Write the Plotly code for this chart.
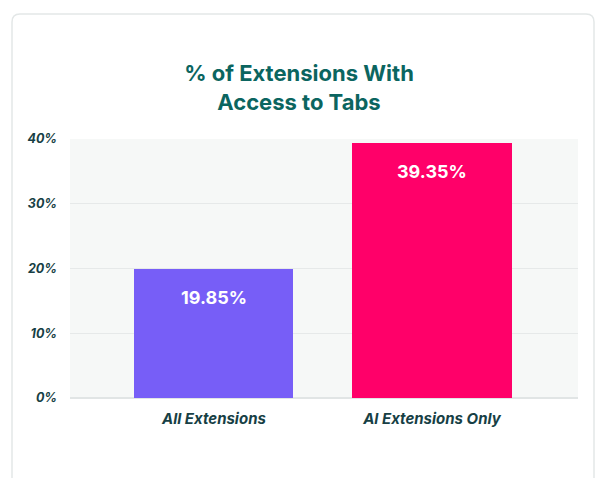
import plotly.graph_objects as go

# Data
categories = ["All Extensions", "AI Extensions Only"]
category_labels = ["All Extensions", "Al Extensions Only"]
share_pct = [19.85, 39.35]
bar_colors = ["#775ef7", "#ff0069"]
y_ticks = [0, 10, 20, 30, 40]
y_tick_labels = ["0%", "10%", "20%", "30%", "40%"]

W, H = 595, 478
M_L, M_R, M_T, M_B = 70, 17, 139, 80
PW, PH = W - M_L - M_R, H - M_T - M_B


def px_x(x):
    return (x - M_L) / PW


def px_y(y):
    return (H - M_B - y) / PH


def card_path(x0, y0, x1, y1, r):
    pts = [
        ("M", [(x0 + r, y0)]),
        ("L", [(x1 - r, y0)]),
        ("Q", [(x1, y0), (x1, y0 + r)]),
        ("L", [(x1, y1 - r)]),
        ("Q", [(x1, y1), (x1 - r, y1)]),
        ("L", [(x0 + r, y1)]),
        ("Q", [(x0, y1), (x0, y1 - r)]),
        ("L", [(x0, y0 + r)]),
        ("Q", [(x0, y0), (x0 + r, y0)]),
    ]
    out = []
    for cmd, coords in pts:
        out.append(cmd + " ".join(f"{px_x(a):.5f},{px_y(b):.5f}" for a, b in coords))
    return " ".join(out) + " Z"


fig = go.Figure()
fig.add_trace(
    go.Bar(
        x=categories,
        y=share_pct,
        marker=dict(color=bar_colors, line=dict(width=0)),
        width=0.73,
        hoverinfo="skip",
    )
)

for cat, v in zip(categories, share_pct):
    fig.add_annotation(
        x=cat, y=v, text=f"{v:.2f}%", showarrow=False,
        yanchor="middle", yshift=-28,
        font=dict(family="Inter", size=18, color="#ffffff", weight="bold"),
    )

fig.add_shape(
    type="path", xref="paper", yref="paper", layer="below",
    path=card_path(12, 14, 594, 490, 8),
    line=dict(color="#e3e7e7", width=1.5), fillcolor="rgba(0,0,0,0)",
)

tick_font = dict(family="Inter", size=12.5, color="#173f45", weight="bold", style="italic")

fig.update_layout(
    width=W, height=H,
    margin=dict(l=M_L, r=M_R, t=M_T, b=M_B),
    paper_bgcolor="#ffffff",
    plot_bgcolor="#f6f8f7",
    showlegend=False,
    bargap=0,
    title=dict(
        text="% of Extensions With<br>Access to Tabs",
        xref="container", yref="container",
        x=299 / W, xanchor="center",
        y=1 - 81 / H, yanchor="top",
        font=dict(family="Inter", size=22, color="#0b6560", weight="bold"),
    ),
    xaxis=dict(
        type="category",
        range=[-0.66, 1.67],
        tickvals=categories,
        ticktext=category_labels,
        tickfont=dict(family="Inter", size=15, color="#173f45", weight="bold", style="italic"),
        showgrid=False, zeroline=False, showline=False,
        ticks="", ticklabelstandoff=10,
    ),
    yaxis=dict(
        range=[0, 40],
        tickvals=y_ticks,
        ticktext=y_tick_labels,
        tickfont=tick_font,
        showgrid=True, gridcolor="#e6e9e9", gridwidth=1.2,
        zeroline=True, zerolinecolor="#e1e5e5", zerolinewidth=1.5,
        showline=False, ticks="", ticklabelstandoff=12,
    ),
)

fig.write_html("out.html")
